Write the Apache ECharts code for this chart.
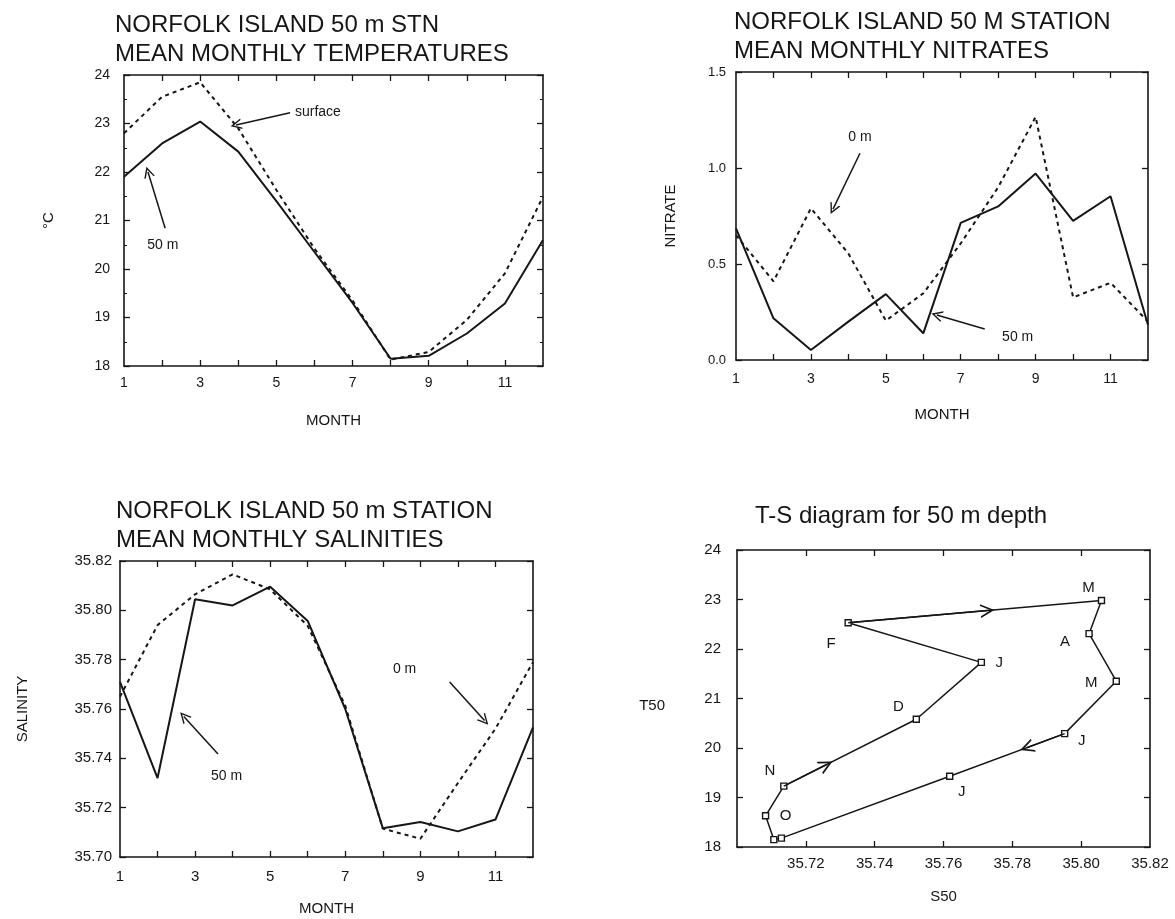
<!DOCTYPE html>
<html>
<head>
<meta charset="utf-8">
<title>Norfolk Island 50 m station</title>
<script src="https://cdn.jsdelivr.net/npm/echarts@6/dist/echarts.min.js"></script>
<style>
  html, body { margin: 0; padding: 0; background: #fff; }
  #chart { width: 1175px; height: 919px; }
</style>
</head>
<body>
<div id="chart"></div>
<script>
  // values
  const months = [1, 2, 3, 4, 5, 6, 7, 8, 9, 10, 11, 12]
  const tempSurface = [22.8, 23.55, 23.85, 22.9, 21.63, 20.42, 19.35, 18.13, 18.29, 18.95, 19.91, 21.49]
  const temp50 = [21.9, 22.59, 23.04, 22.42, 21.4, 20.35, 19.3, 18.15, 18.21, 18.67, 19.29, 20.6]
  const nitrate0 = [0.65, 0.41, 0.79, 0.555, 0.205, 0.347, 0.607, 0.9, 1.266, 0.326, 0.402, 0.2]
  const nitrate50 = [0.685, 0.217, 0.052, 0.2, 0.343, 0.139, 0.714, 0.8, 0.971, 0.725, 0.853, 0.182]
  const sal0 = [35.765, 35.794, 35.8065, 35.8146, 35.8085, 35.7937, 35.7613, 35.7115, 35.7074, 35.73, 35.752, 35.779]
  const sal50 = [35.771, 35.732, 35.8045, 35.802, 35.8096, 35.7957, 35.76, 35.7117, 35.7142, 35.7104, 35.7152, 35.7526]
  // T-S diagram (50 m), one point per month
  const tsMonths = ['J', 'F', 'M', 'A', 'M', 'J', 'J', 'A', 'S', 'O', 'N', 'D']
  const tsSal = [35.771, 35.7323, 35.8059, 35.8023, 35.8102, 35.7952, 35.7618, 35.7129, 35.7107, 35.7083, 35.7136, 35.7521]
  const tsTemp = [21.73, 22.53, 22.98, 22.31, 21.35, 20.29, 19.43, 18.18, 18.15, 18.63, 19.23, 20.58]
  // tick labels
  const monthTicks = [1, 3, 5, 7, 9, 11]
  const monthMarks = [2, 3, 4, 5, 6, 7, 8, 9, 10, 11]
  const tempTicks = [18, 19, 20, 21, 22, 23, 24]
  const nitrateTicks = [0, 0.5, 1.0, 1.5]
  const salTicks = [35.70, 35.72, 35.74, 35.76, 35.78, 35.80, 35.82]
  const tsSalTicks = [35.72, 35.74, 35.76, 35.78, 35.80, 35.82]

  const FONT = '"Liberation Sans", Arial, sans-serif'
  const INK = '#161616'
  // open chevron arrow head, pointing up (ECharts turns it along the line)
  const CHEVRON = 'path://M0,10 L5,0 L10,10 L8.6,10 L5,2.8 L1.4,10 Z'

  // one-level merge so nested style objects can be overridden piece by piece
  function merge(base, extra) {
    const out = Object.assign({}, base)
    Object.keys(extra || {}).forEach(k => {
      if (extra[k] && typeof extra[k] === 'object' && !Array.isArray(extra[k]) && base[k]) {
        out[k] = Object.assign({}, base[k], extra[k])
      } else {
        out[k] = extra[k]
      }
    })
    return out
  }

  const axisBase = {
    type: 'value',
    axisLine: { show: true, onZero: false, lineStyle: { color: INK, width: 1.6 } },
    axisTick: { show: true, inside: true, length: 6, lineStyle: { color: INK, width: 1.3 } },
    axisLabel: { color: INK, fontFamily: FONT, fontSize: 14 },
    splitLine: { show: false },
    nameLocation: 'middle',
    nameTextStyle: { color: INK, fontFamily: FONT, fontSize: 15 },
  }

  // bottom + top axes for one grid
  function xPair(grid, opts, labelOpts) {
    const main = merge(merge(axisBase, opts), labelOpts)
    main.gridIndex = grid
    main.position = 'bottom'
    const mirror = merge(axisBase, opts)
    mirror.gridIndex = grid
    mirror.position = 'top'
    mirror.name = ''
    mirror.axisLabel = { show: false }
    return [main, mirror]
  }
  // left + right axes for one grid
  function yPair(grid, opts, labelOpts) {
    const main = merge(merge(axisBase, opts), labelOpts)
    main.gridIndex = grid
    main.position = 'left'
    const mirror = merge(axisBase, opts)
    mirror.gridIndex = grid
    mirror.position = 'right'
    mirror.name = ''
    mirror.axisLabel = { show: false }
    return [main, mirror]
  }

  const monthAxis = {
    min: 1, max: 12,
    axisTick: { customValues: monthMarks },
    axisLabel: { customValues: monthTicks },
  }

  function pairs(values) {
    return months.map((m, i) => [m, values[i]])
  }

  const solid = { color: INK, width: 2 }
  const dashed = { color: INK, width: 2, type: [4, 4] }

  function arrow(from, to) {
    return [{ coord: from }, { coord: to }]
  }
  function arrowMarks(list) {
    return {
      silent: true,
      animation: false,
      symbol: ['none', CHEVRON],
      symbolSize: 11,
      lineStyle: { color: INK, width: 1.5, type: 'solid' },
      label: { show: false },
      emphasis: { disabled: true },
      data: list,
    }
  }
  function textMarks(list) {
    return {
      silent: true,
      animation: false,
      symbol: 'circle',
      symbolSize: 1,
      itemStyle: { color: 'rgba(0,0,0,0)' },
      label: { show: true, position: 'inside', color: INK, fontFamily: FONT, fontSize: 14, formatter: '{b}' },
      data: list,
    }
  }

  // arrow along the T-S path, from point i toward point j, stopping at frac of the way
  function pathArrow(i, j, frac) {
    const a = [tsSal[i], tsTemp[i]]
    const b = [tsSal[j], tsTemp[j]]
    return arrow(a, [a[0] + (b[0] - a[0]) * frac, a[1] + (b[1] - a[1]) * frac])
  }

  // where each month letter sits around its marker (pixels)
  const tsLabelOffset = [[18, 0], [-17, 21], [-13, -13], [-24, 8], [-25, 2], [17, 7], [12, 16], null, null, [20, 0], [-14, -15], [-18, -12]]

  const tsData = tsSal.map((s, i) => {
    const off = tsLabelOffset[i]
    return {
      value: [s, tsTemp[i]],
      label: off ? { show: true, position: 'inside', offset: off, formatter: tsMonths[i] } : { show: false },
    }
  })
  // close the loop back to January
  tsData.push({ value: [tsSal[0], tsTemp[0]], symbol: 'none', label: { show: false } })

  const chart = echarts.init(document.getElementById('chart'))

  const titleStyle = { color: INK, fontFamily: FONT, fontSize: 24, fontWeight: 'normal', lineHeight: 29 }

  const option = {
    animation: false,
    backgroundColor: '#fff',
    title: [
      { left: 115, top: 11, padding: 0, text: 'NORFOLK ISLAND 50 m STN\nMEAN MONTHLY TEMPERATURES', textStyle: titleStyle },
      { left: 734, top: 8, padding: 0, text: 'NORFOLK ISLAND 50 M STATION\nMEAN MONTHLY NITRATES', textStyle: titleStyle },
      { left: 116, top: 497, padding: 0, text: 'NORFOLK ISLAND 50 m STATION\nMEAN MONTHLY SALINITIES', textStyle: titleStyle },
      { left: 755, top: 502, padding: 0, text: 'T-S diagram for 50 m depth', textStyle: titleStyle },
    ],
    grid: [
      { left: 124, top: 75, width: 419, height: 291 },
      { left: 736, top: 72, width: 412, height: 288 },
      { left: 120, top: 561, width: 413, height: 296 },
      { left: 737, top: 550, width: 413, height: 297 },
    ],
    xAxis: [
      ...xPair(0, monthAxis, { name: 'MONTH', nameGap: 47, axisLabel: { margin: 10 } }),
      ...xPair(1, monthAxis, { name: 'MONTH', nameGap: 47, axisLabel: { margin: 12 } }),
      ...xPair(2, monthAxis, { name: 'MONTH', nameGap: 44, axisLabel: { margin: 12, fontSize: 15 } }),
      ...xPair(3, {
        min: 35.70, max: 35.82,
        axisTick: { customValues: tsSalTicks.slice(0, -1) },
        axisLabel: { customValues: tsSalTicks, formatter: v => v.toFixed(2) },
      }, { name: 'S50', nameGap: 42, axisLabel: { margin: 9, fontSize: 15 } }),
    ],
    yAxis: [
      ...yPair(0, {
        min: 18, max: 24, interval: 1,
        minorTick: { show: true, splitNumber: 2, length: 3, lineStyle: { color: INK, width: 1 } },
        axisLabel: { customValues: tempTicks },
      }, { name: '°C', nameGap: 68, nameRotate: 90, axisLabel: { margin: 14 } }),
      ...yPair(1, {
        min: 0, max: 1.5, interval: 0.5,
        axisLabel: { customValues: nitrateTicks, formatter: v => v.toFixed(1) },
      }, { name: 'NITRATE', nameGap: 58, axisLabel: { margin: 10, fontSize: 13 } }),
      ...yPair(2, {
        min: 35.70, max: 35.82,
        axisTick: { customValues: salTicks },
        axisLabel: { customValues: salTicks, formatter: v => v.toFixed(2) },
      }, { name: 'SALINITY', nameGap: 90, axisLabel: { margin: 8, fontSize: 15 } }),
      ...yPair(3, {
        min: 18, max: 24, interval: 1,
        axisLabel: { customValues: tempTicks },
      }, { name: 'T50', nameGap: 72, nameRotate: 0, nameTextStyle: { verticalAlign: 'top' }, axisLabel: { margin: 16, fontSize: 15 } }),
    ],
    series: [
      {
        name: 'surface', type: 'line', xAxisIndex: 0, yAxisIndex: 0,
        data: pairs(tempSurface), symbol: 'none', lineStyle: dashed,
        markLine: arrowMarks([arrow([5.36, 23.22], [3.94, 22.97])]),
        markPoint: textMarks([{ name: 'surface', coord: [6.09, 23.24] }]),
      },
      {
        name: '50 m', type: 'line', xAxisIndex: 0, yAxisIndex: 0,
        data: pairs(temp50), symbol: 'none', lineStyle: solid,
        markLine: arrowMarks([arrow([2.08, 20.84], [1.63, 22.0])]),
        markPoint: textMarks([{ name: '50 m', coord: [2.02, 20.49] }]),
      },
      {
        name: '0 m', type: 'line', xAxisIndex: 2, yAxisIndex: 2,
        data: pairs(nitrate0), symbol: 'none', lineStyle: dashed,
        markLine: arrowMarks([arrow([4.31, 1.077], [3.59, 0.786])]),
        markPoint: textMarks([{ name: '0 m', coord: [4.31, 1.16] }]),
      },
      {
        name: '50 m', type: 'line', xAxisIndex: 2, yAxisIndex: 2,
        data: pairs(nitrate50), symbol: 'none', lineStyle: solid,
        markLine: arrowMarks([arrow([7.64, 0.161], [6.36, 0.234])]),
        markPoint: textMarks([{ name: '50 m', coord: [8.52, 0.12] }]),
      },
      {
        name: '0 m', type: 'line', xAxisIndex: 4, yAxisIndex: 4,
        data: pairs(sal0), symbol: 'none', lineStyle: dashed,
        markLine: arrowMarks([arrow([9.78, 35.7709], [10.71, 35.7553])]),
        markPoint: textMarks([{ name: '0 m', coord: [8.58, 35.776] }]),
      },
      {
        name: '50 m', type: 'line', xAxisIndex: 4, yAxisIndex: 4,
        data: pairs(sal50), symbol: 'none', lineStyle: solid,
        markLine: arrowMarks([arrow([3.61, 35.7418], [2.70, 35.757])]),
        markPoint: textMarks([{ name: '50 m', coord: [3.84, 35.7328] }]),
      },
      {
        name: 'T-S 50 m', type: 'line', xAxisIndex: 6, yAxisIndex: 6,
        data: tsData,
        symbol: 'rect', symbolSize: 6, showAllSymbol: true,
        itemStyle: { color: '#fff', borderColor: INK, borderWidth: 1.4 },
        lineStyle: { color: INK, width: 1.5 },
        label: { color: INK, fontFamily: FONT, fontSize: 15 },
        markLine: merge(arrowMarks([pathArrow(1, 2, 0.55), pathArrow(10, 11, 0.32), pathArrow(5, 6, 0.33)]),
          { symbolSize: 14, lineStyle: { width: 1.5 } }),
      },
    ],
  }

  chart.setOption(option)
</script>
</body>
</html>
